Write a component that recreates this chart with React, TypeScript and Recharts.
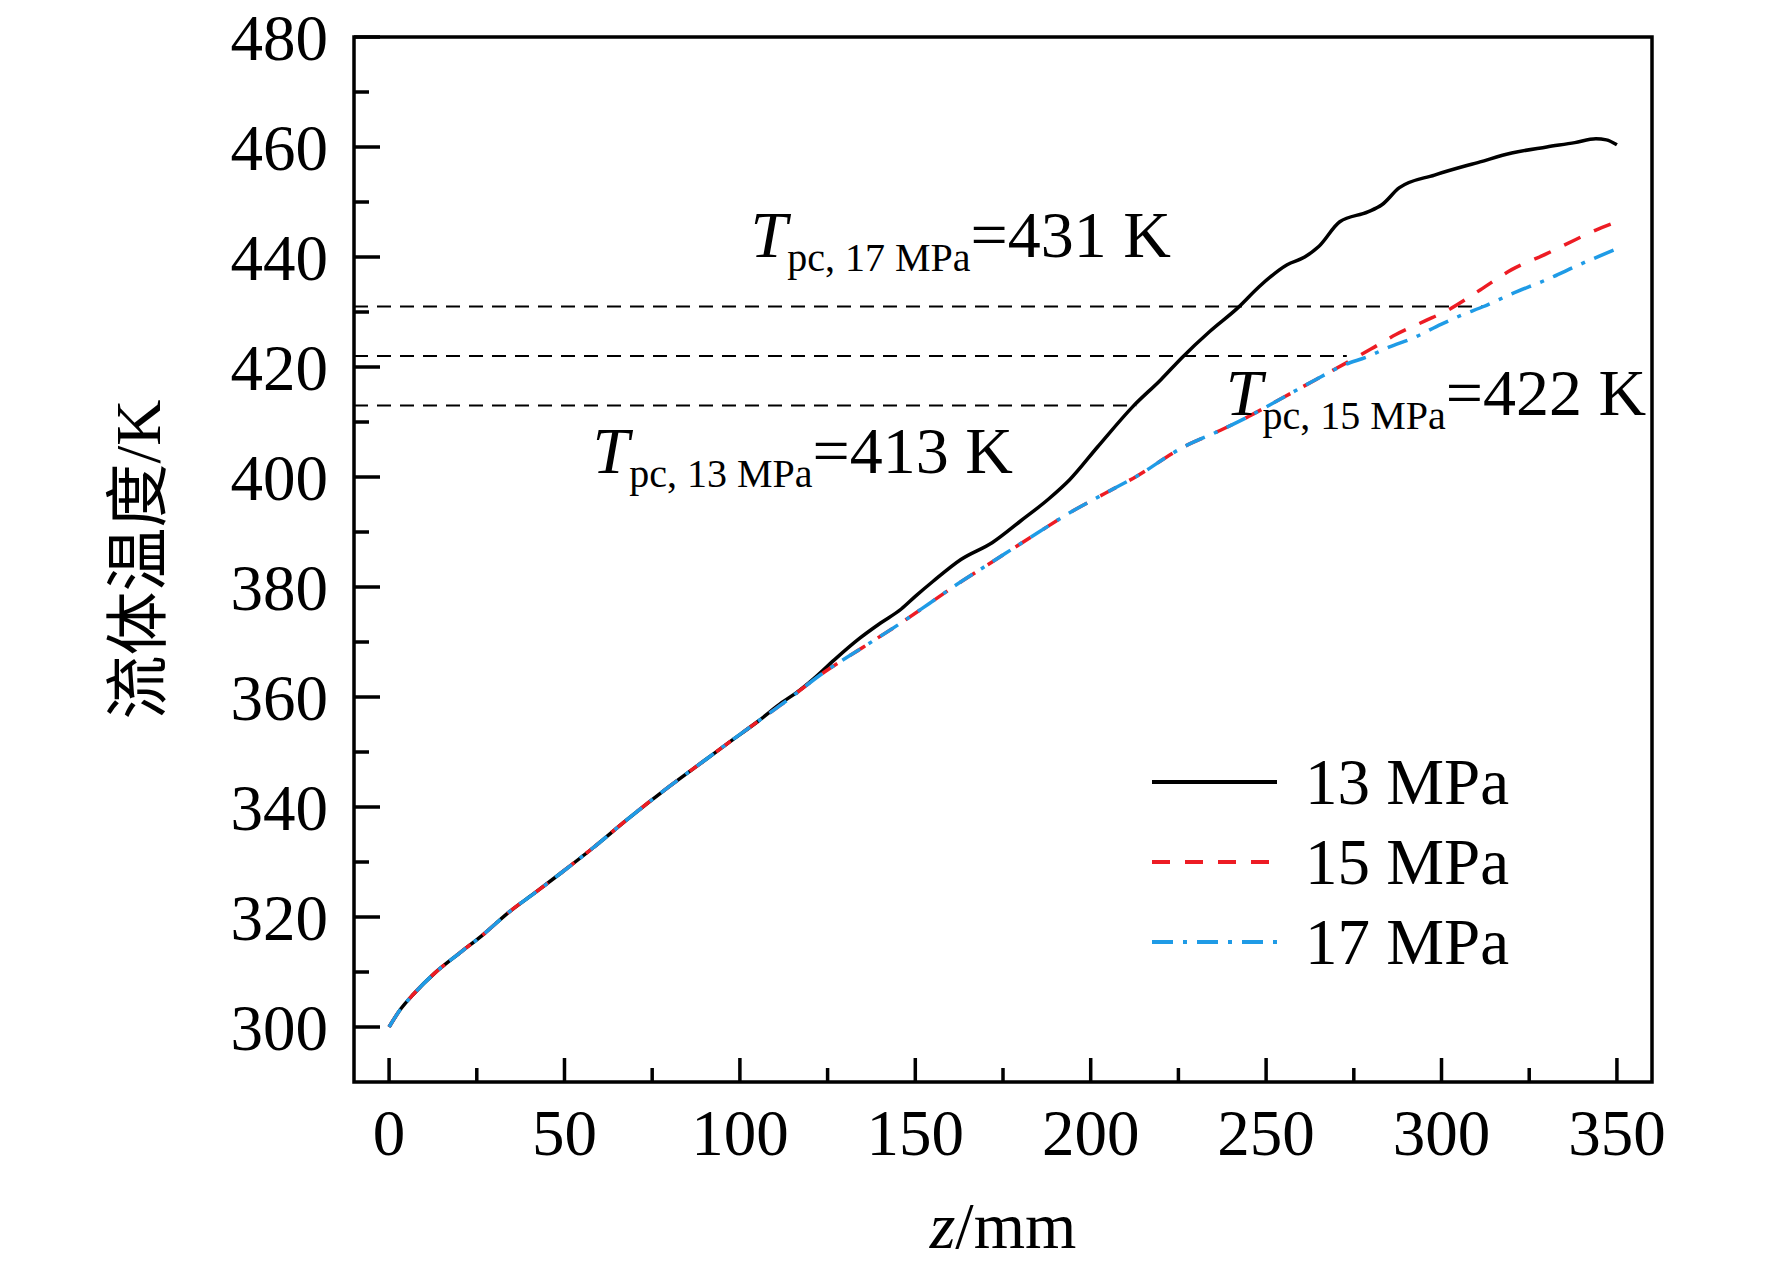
import React from "react";
import { LineChart, Line, XAxis, YAxis, ReferenceLine, ReferenceArea, ReferenceDot } from "recharts";

// 13 MPa
const z13 = [0, 3, 7, 13, 20, 27, 34, 42, 49, 58, 68, 80, 90, 97, 105, 112, 117, 121, 127, 134, 140, 146, 150, 155, 163, 172, 180, 188, 194, 202, 212, 220, 226, 234, 242, 248, 256, 261, 265, 271, 279, 283, 288, 298, 311, 320, 330, 338, 344, 347, 350];
const t13 = [300, 303, 306, 309.8, 313.4, 316.9, 320.8, 324.6, 328, 332.5, 337.8, 343.8, 348.5, 351.8, 355.5, 359, 361.2, 363.3, 366.8, 370.6, 373.4, 376, 378.3, 381, 385, 388.1, 392, 396, 399.5, 405.5, 412.8, 417.7, 421.7, 426.5, 430.8, 434.6, 438.6, 440, 441.9, 446.4, 448.2, 449.5, 452.6, 454.9, 457.3, 458.9, 460, 460.8, 461.5, 461.3, 460.4];

// 15 MPa
const z15 = [0, 3, 7, 13, 20, 27, 34, 42, 49, 58, 68, 80, 90, 97, 105, 112, 124, 135, 146, 154, 161, 172, 185, 194, 204, 213, 226, 237, 245, 255, 265, 273, 280, 287, 295, 302, 311, 320, 330, 338, 344, 350];
const t15 = [300, 303, 306, 309.8, 313.4, 316.9, 320.8, 324.6, 328, 332.5, 337.8, 343.8, 348.5, 351.8, 355.5, 358.7, 364.5, 369, 373.5, 377, 380.1, 384.6, 389.9, 393.5, 397, 400.1, 405.3, 408.5, 411, 414.5, 418, 420.8, 423.3, 425.9, 428.3, 430.4, 434, 437.7, 440.6, 443.1, 444.9, 446.4];

// 17 MPa
const z17 = [0, 3, 7, 13, 20, 27, 34, 42, 49, 58, 68, 80, 90, 97, 105, 112, 124, 135, 146, 154, 161, 172, 185, 194, 204, 213, 226, 237, 245, 255, 265, 272, 279, 285, 292, 300, 306, 312, 320, 330, 340, 350];
const t17 = [300, 303, 306, 309.8, 313.4, 316.9, 320.8, 324.6, 328, 332.5, 337.8, 343.8, 348.5, 351.8, 355.5, 358.7, 364.5, 369, 373.5, 377, 380.1, 384.6, 389.9, 393.5, 397, 400.1, 405.3, 408.5, 411, 414.5, 418, 420.3, 421.9, 423.6, 425.3, 427.8, 429.5, 431, 433.3, 435.9, 438.8, 441.5];

// pseudo-critical temperatures and where each dashed guide stops
const tpcPressures = ["17 MPa", "15 MPa", "13 MPa"];
const tpcValues = [431, 422, 413];
const tpcEndZ = [312, 273, 213];

const xTicks = [0, 25, 50, 75, 100, 125, 150, 175, 200, 225, 250, 275, 300, 325, 350];
const yTicks = [300, 310, 320, 330, 340, 350, 360, 370, 380, 390, 400, 410, 420, 430, 440, 450, 460, 470, 480];

const toRows = (z: number[], t: number[]) => z.map((v, i) => ({ z: v, T: t[i] }));

const FONT = "'Liberation Serif', 'Times New Roman', 'Noto Sans CJK SC', serif";
const FS = 65;
const RED = "#ed1c24";
const BLUE = "#1f9be6";

const series = [
  { name: "13 MPa", data: toRows(z13, t13), color: "#000", dash: undefined as string | undefined },
  { name: "15 MPa", data: toRows(z15, t15), color: RED, dash: "18 15" },
  { name: "17 MPa", data: toRows(z17, t17), color: BLUE, dash: "21 10 4 10" },
];

function XTick({ x, y, payload }: any) {
  const major = payload.value % 50 === 0;
  return (
    <g>
      <line x1={x} x2={x} y1={y} y2={y - (major ? 24 : 14)} stroke="#000" strokeWidth={3.5} />
      {major && (
        <text x={x} y={y + 73} textAnchor="middle" fontFamily={FONT} fontSize={FS} fill="#000">
          {payload.value}
        </text>
      )}
    </g>
  );
}

function YTick({ x, y, payload }: any) {
  const major = payload.value % 20 === 0;
  return (
    <g>
      <line x1={x} x2={x + (major ? 26 : 15)} y1={y} y2={y} stroke="#000" strokeWidth={3.5} />
      {major && (
        <text x={x - 26} y={y} dy="0.35em" textAnchor="end" fontFamily={FONT} fontSize={FS} fill="#000">
          {payload.value}
        </text>
      )}
    </g>
  );
}

function TpcLabel({ cx, cy, sub, value }: any) {
  return (
    <text x={cx} y={cy} fontFamily={FONT} fontSize={66} fill="#000">
      <tspan fontStyle="italic">T</tspan>
      <tspan fontSize={40} dy={14}>{`pc, ${sub}`}</tspan>
      <tspan dy={-14}>{`=${value} K`}</tspan>
    </text>
  );
}

// label anchors (start of text, baseline) in data units
const tpcAnchors = [
  { z: 103, T: 440 },
  { z: 238.5, T: 411.3 },
  { z: 58, T: 400.8 },
];

function LegendBox() {
  return (
    <svg width={440} height={260} style={{ position: "absolute", left: 1140, top: 740 }}>
      {series.map((s, i) => (
        <g key={s.name}>
          <line x1={12} x2={137} y1={42 + i * 80} y2={42 + i * 80} stroke={s.color} strokeWidth={4} strokeDasharray={s.dash} />
          <text x={165} y={64 + i * 80} fontFamily={FONT} fontSize={FS} fill="#000">{s.name}</text>
        </g>
      ))}
    </svg>
  );
}

export default function App() {
  return (
    <div style={{ position: "absolute", left: 0, top: 0, width: 1772, height: 1270, background: "#fff" }}>
      <LineChart width={1772} height={1270} margin={{ top: 37, right: 120, left: 0, bottom: 0 }}>
        <XAxis
          type="number"
          dataKey="z"
          domain={[-10, 360]}
          ticks={xTicks}
          interval={0}
          allowDataOverflow
          axisLine={false}
          tickLine={false}
          tickSize={0}
          tickMargin={0}
          height={188}
          tick={<XTick />}
          label={({ viewBox }: any) => (
            <text x={viewBox.x + viewBox.width / 2} y={viewBox.y + 166} textAnchor="middle" fontFamily={FONT} fontSize={66} fill="#000">
              <tspan fontStyle="italic">z</tspan>/mm
            </text>
          )}
        />
        <YAxis
          type="number"
          dataKey="T"
          domain={[290, 480]}
          ticks={yTicks}
          interval={0}
          allowDataOverflow
          axisLine={false}
          tickLine={false}
          tickSize={0}
          tickMargin={0}
          width={354}
          tick={<YTick />}
          label={({ viewBox }: any) => {
            const cx = viewBox.x + 138;
            const cy = viewBox.y + viewBox.height / 2;
            return (
              <text x={cx} y={cy} transform={`rotate(-90 ${cx} ${cy})`} textAnchor="middle" dominantBaseline="central" fontFamily={FONT} fontSize={64} fill="#000">
                流体温度/K
              </text>
            );
          }}
        />
        <ReferenceArea x1={-10} x2={360} y1={290} y2={480} fill="none" fillOpacity={0} stroke="#000" strokeWidth={3.5} ifOverflow="visible" />
        {tpcValues.map((v, i) => (
          <ReferenceLine
            key={v}
            segment={[{ x: -10, y: v }, { x: tpcEndZ[i], y: v }]}
            stroke="#000"
            strokeWidth={2}
            strokeDasharray="14 9"
          />
        ))}
        {series.map((s) => (
          <Line
            key={s.name}
            data={s.data}
            dataKey="T"
            name={s.name}
            type="monotone"
            stroke={s.color}
            strokeWidth={3.5}
            strokeDasharray={s.dash}
            dot={false}
            activeDot={false}
            isAnimationActive={false}
          />
        ))}
        {tpcValues.map((v, i) => (
          <ReferenceDot
            key={`lbl${v}`}
            x={tpcAnchors[i].z}
            y={tpcAnchors[i].T}
            r={0}
            shape={(p: any) => <TpcLabel cx={p.cx} cy={p.cy} sub={tpcPressures[i]} value={v} />}
          />
        ))}
      </LineChart>
      <LegendBox />
    </div>
  );
}
